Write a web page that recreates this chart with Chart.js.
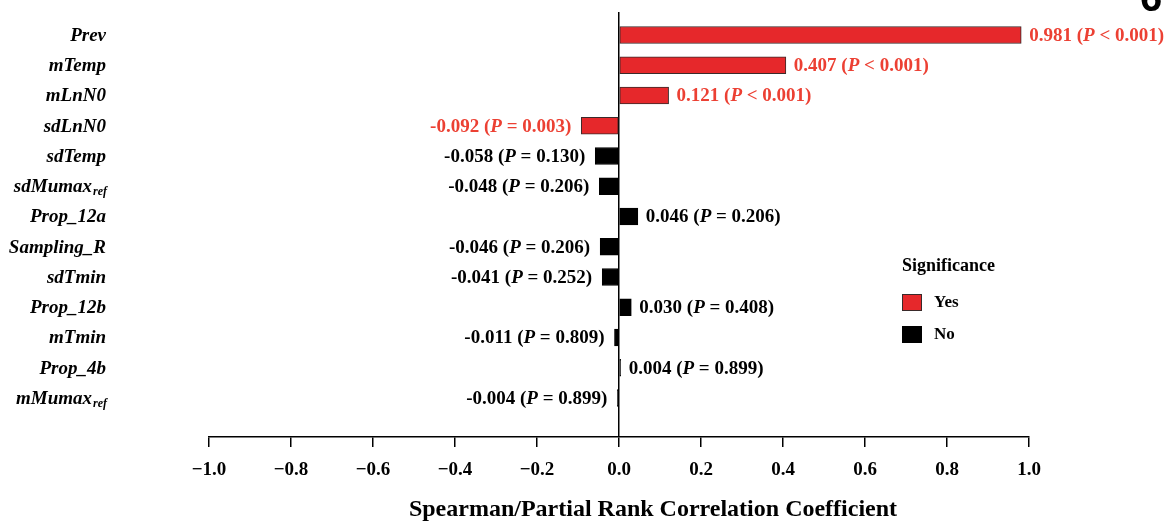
<!DOCTYPE html>
<html>
<head>
<meta charset="utf-8">
<script src="https://cdn.jsdelivr.net/npm/chart.js@4.4.1/dist/chart.umd.min.js"></script>
<style>
  html, body { margin: 0; padding: 0; background: #ffffff; }
  #wrap { width: 1166px; height: 521px; position: relative; }
</style>
</head>
<body>
<div id="wrap"><canvas id="chart" width="1166" height="521"></canvas></div>
<script>
// Input parameters, top to bottom
const categories = ['Prev', 'mTemp', 'mLnN0', 'sdLnN0', 'sdTemp', 'sdMumax', 'Prop_12a',
  'Sampling_R', 'sdTmin', 'Prop_12b', 'mTmin', 'Prop_4b', 'mMumax'];
const categorySubscripts = ['', '', '', '', '', 'ref', '', '', '', '', '', '', 'ref'];
// Spearman / partial rank correlation coefficients
const coefficients = [0.981, 0.407, 0.121, -0.092, -0.058, -0.048, 0.046,
  -0.046, -0.041, 0.030, -0.011, 0.004, -0.004];
// P-values as reported
const pRelations = ['<', '<', '<', '=', '=', '=', '=', '=', '=', '=', '=', '=', '='];
const pValues = ['0.001', '0.001', '0.001', '0.003', '0.130', '0.206', '0.206',
  '0.206', '0.252', '0.408', '0.809', '0.899', '0.899'];
const xTicks = [-1.0, -0.8, -0.6, -0.4, -0.2, 0.0, 0.2, 0.4, 0.6, 0.8, 1.0];
const axisTitle = 'Spearman/Partial Rank Correlation Coefficient';
const legendTitle = 'Significance';
const legendLabels = ['Yes', 'No'];

const RED = '#e6282b';
const RED_TEXT = '#ec4033';
const BLACK = '#000000';
const SERIF = '"Liberation Serif", "Times New Roman", serif';

const significant = pValues.map((p, i) => pRelations[i] === '<' || parseFloat(p) < 0.05);
const fills = significant.map(s => s ? RED : BLACK);
const borders = significant.map(s => s ? '#3a2a2a' : BLACK);

const points = coefficients.map((v, i) => ({ x: v, y: i }));

// Row names with optional subscripts, drawn at each row centre
const rowNamesPlugin = {
  id: 'rowNames',
  afterDraw(chart) {
    const ctx = chart.ctx;
    const yScale = chart.scales.y;
    const rightEdge = 107;
    ctx.save();
    ctx.fillStyle = BLACK;
    ctx.textBaseline = 'middle';
    categories.forEach((name, i) => {
      const y = yScale.getPixelForValue(i) + 1;
      const sub = categorySubscripts[i];
      let subW = 0;
      if (sub) {
        ctx.font = 'bold italic 12px ' + SERIF;
        subW = ctx.measureText(sub).width;
        ctx.textAlign = 'right';
        ctx.fillText(sub, rightEdge, y + 5);
      }
      ctx.font = 'bold italic 19px ' + SERIF;
      ctx.textAlign = 'right';
      ctx.fillText(name, rightEdge - subW - 1, y);
    });
    ctx.restore();
  }
};

// Coefficient and P-value next to each bar
const valueLabelPlugin = {
  id: 'valueLabels',
  afterDatasetsDraw(chart) {
    const ctx = chart.ctx;
    const meta = chart.getDatasetMeta(0);
    const plain = 'bold 19px ' + SERIF;
    const ital = 'bold italic 19px ' + SERIF;
    ctx.save();
    ctx.textBaseline = 'middle';
    ctx.textAlign = 'left';
    meta.data.forEach((bar, i) => {
      const v = coefficients[i];
      const parts = [
        [v.toFixed(3) + ' (', plain],
        ['P', ital],
        [' ' + pRelations[i] + ' ' + pValues[i] + ')', plain]
      ];
      let total = 0;
      parts.forEach(([t, f]) => { ctx.font = f; total += ctx.measureText(t).width; });
      let x = v >= 0 ? bar.x + 8 : bar.x - 10 - total;
      const y = bar.y + 1;
      ctx.fillStyle = significant[i] ? RED_TEXT : BLACK;
      parts.forEach(([t, f]) => {
        ctx.font = f;
        ctx.fillText(t, x, y);
        x += ctx.measureText(t).width;
      });
    });
    ctx.restore();
  }
};

// Axis title, significance key and panel letter
const annotationPlugin = {
  id: 'annotations',
  afterDraw(chart) {
    const ctx = chart.ctx;
    ctx.save();
    ctx.fillStyle = BLACK;
    ctx.textBaseline = 'alphabetic';
    ctx.textAlign = 'center';
    ctx.font = 'bold 24px ' + SERIF;
    ctx.fillText(axisTitle, 653, 516);

    ctx.textBaseline = 'middle';
    ctx.textAlign = 'left';
    ctx.font = 'bold 18px ' + SERIF;
    ctx.fillText(legendTitle, 902, 266);
    const swatches = [[RED, '#3a2a2a'], [BLACK, BLACK]];
    legendLabels.forEach((lab, i) => {
      const top = 294 + i * 32;
      ctx.fillStyle = swatches[i][0];
      ctx.fillRect(902, top, 20, 17);
      ctx.strokeStyle = swatches[i][1];
      ctx.lineWidth = 1;
      ctx.strokeRect(902.5, top + 0.5, 19, 16);
      ctx.fillStyle = BLACK;
      ctx.font = 'bold 17px ' + SERIF;
      ctx.fillText(lab, 934, top + 9);
    });
    ctx.font = 'bold 40px "Liberation Sans", Arial, sans-serif';
    ctx.textAlign = 'center';
    ctx.textBaseline = 'alphabetic';
    ctx.fillText('6', 1151, 11);
    ctx.restore();
  }
};

new Chart(document.getElementById('chart'), {
  type: 'bar',
  data: {
    datasets: [{
      data: points,
      backgroundColor: fills,
      borderColor: borders,
      borderWidth: 1,
      borderSkipped: false,
      barThickness: 17
    }]
  },
  options: {
    indexAxis: 'y',
    responsive: false,
    animation: false,
    devicePixelRatio: 1,
    layout: { padding: { top: 12, right: 137, left: 0, bottom: 0 } },
    plugins: {
      legend: { display: false },
      tooltip: { enabled: false }
    },
    scales: {
      x: {
        type: 'linear',
        min: -1,
        max: 1,
        bounds: 'data',
        afterBuildTicks(scale) { scale.ticks = xTicks.map(v => ({ value: v })); },
        afterFit(scale) { scale.height = 84; },
        grid: {
          drawOnChartArea: true,
          color: ctx => (ctx.tick && ctx.tick.value === 0) ? BLACK : 'rgba(0,0,0,0)',
          tickColor: BLACK,
          tickLength: 10,
          lineWidth: 1.5
        },
        border: { display: true, color: BLACK, width: 1.5 },
        ticks: {
          color: BLACK,
          padding: 12,
          font: { family: SERIF, size: 19, weight: 'bold' },
          callback: v => (v < 0 ? '\u2212' + Math.abs(v).toFixed(1) : v.toFixed(1))
        }
      },
      y: {
        type: 'linear',
        reverse: true,
        offset: false,
        min: -0.76,
        max: 13.29,
        bounds: 'data',
        afterDataLimits(scale) { scale.min = -0.76; scale.max = 13.29; },
        afterBuildTicks(scale) { scale.ticks = categories.map((_, i) => ({ value: i })); },
        afterFit(scale) { scale.width = 209; },
        grid: { display: false, drawTicks: false, offset: false },
        border: { display: false },
        ticks: { display: false }
      }
    }
  },
  plugins: [rowNamesPlugin, valueLabelPlugin, annotationPlugin]
});
</script>
</body>
</html>
